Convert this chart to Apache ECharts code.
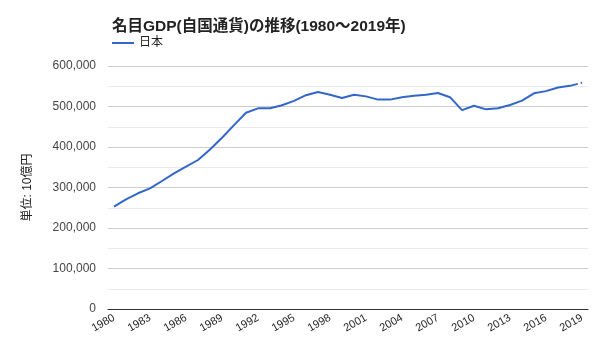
<!DOCTYPE html>
<html><head><meta charset="utf-8">
<script src="https://cdn.jsdelivr.net/npm/echarts@6/dist/echarts.min.js"></script>
<style>html,body{margin:0;padding:0;background:#fff}#c{width:600px;height:360px}</style>
</head><body><div id="c"></div>
<script>
const years = [];
for (let y = 1980; y <= 2019; y++) years.push(String(y));
const gdp = [252600, 270600, 285700, 298000, 316000, 335000, 351400, 367900, 394000, 423000,
  454000, 484700, 495500, 495500, 503000, 514000, 528000, 535800, 529000, 521000,
  529000, 525000, 517000, 517000, 523000, 526700, 529000, 533500, 523000, 491000,
  502000, 493000, 495600, 503700, 514400, 532600, 538000, 547000, 551000, null];
const gdpEstimate = [null, null, null, null, null, null, null, null, null, null,
  null, null, null, null, null, null, null, null, null, null,
  null, null, null, null, null, null, null, null, null, null,
  null, null, null, null, null, null, null, null, 551000, 558500];
const yTicks = [0, 100000, 200000, 300000, 400000, 500000, 600000];

const font = '"Liberation Sans", "Noto Sans CJK JP", sans-serif';
const chart = echarts.init(document.getElementById('c'));
chart.setOption({
  animation: false,
  textStyle: { fontFamily: font },
  title: {
    text: '名目GDP(自国通貨)の推移(1980〜2019年)',
    left: 107, top: 14,
    textStyle: { fontSize: 15.5, fontWeight: 'bold', color: '#222', fontFamily: font }
  },
  legend: {
    data: ['日本'], left: 107, top: 32, itemWidth: 22, itemHeight: 10, itemGap: 8,
    icon: 'path://M0,4 L22,4 L22,6 L0,6 Z',
    textStyle: { fontSize: 12, color: '#222', fontFamily: font }
  },
  grid: { left: 108, right: 12, top: 66, bottom: 51 },
  xAxis: {
    type: 'category', data: years, boundaryGap: true,
    axisLine: { lineStyle: { color: '#333', width: 1 } },
    axisTick: { show: false },
    axisLabel: { interval: 2, rotate: 30, fontSize: 11, color: '#222', margin: 8, fontFamily: font }
  },
  yAxis: {
    type: 'value', min: yTicks[0], max: yTicks[yTicks.length - 1], interval: 100000,
    name: '単位: 10億円', nameLocation: 'middle', nameGap: 74, nameRotate: 90,
    nameTextStyle: { fontSize: 12, color: '#222', fontFamily: font },
    axisLine: { show: false }, axisTick: { show: false },
    axisLabel: { fontSize: 12, color: '#444', margin: 12, fontFamily: font,
      formatter: v => v.toLocaleString('en-US') },
    splitLine: { lineStyle: { color: '#cccccc' } },
    minorTick: { show: false, splitNumber: 2 },
    minorSplitLine: { show: true, lineStyle: { color: '#ebebeb' } }
  },
  series: [
    { name: '日本', type: 'line', data: gdp, showSymbol: false, symbol: 'none',
      lineStyle: { color: '#3366cc', width: 2 }, itemStyle: { color: '#3366cc' } },
    { name: '日本', type: 'line', data: gdpEstimate, showSymbol: false, symbol: 'none',
      lineStyle: { color: '#3366cc', width: 2, type: [8, 3] }, itemStyle: { color: '#3366cc' } }
  ]
});
</script></body></html>
